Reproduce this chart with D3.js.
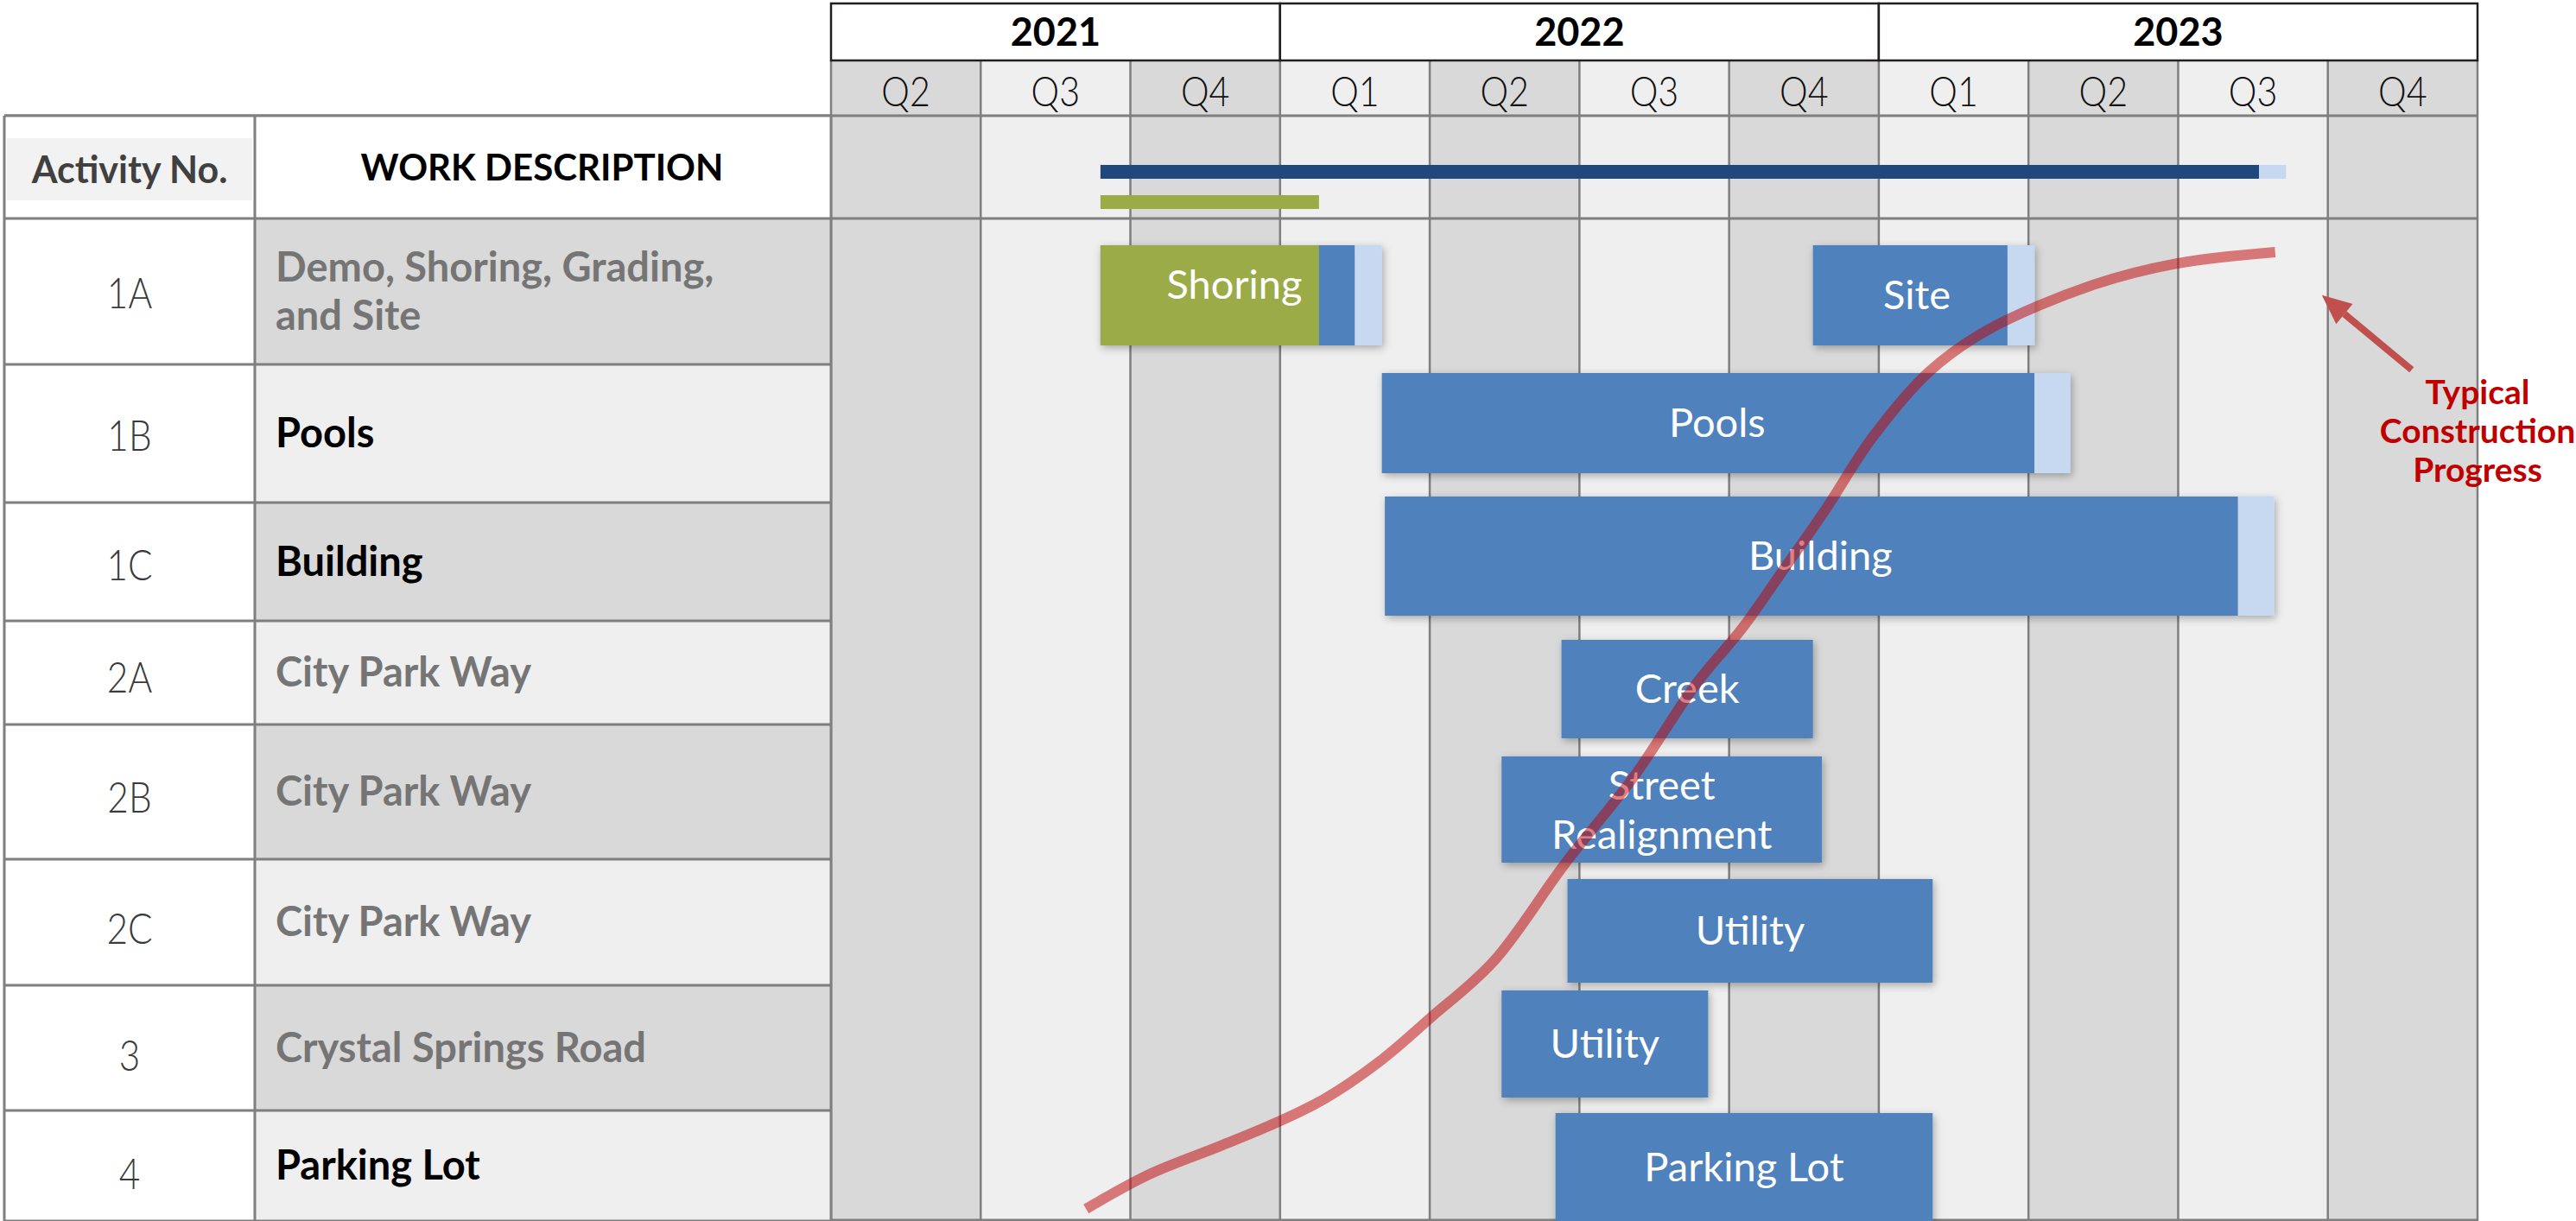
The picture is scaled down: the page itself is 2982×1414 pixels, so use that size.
<!DOCTYPE html>
<html>

<head>
	<title>Construction schedule</title>
	<script src="https://cdn.jsdelivr.net/npm/d3@7"></script>
	<style>
		body {
			margin: 0;
			background: #fff;
		}

		svg {
			display: block;
			font-family: Lato, 'Open Sans', sans-serif;
		}
	</style>
</head>

<body>
	<svg id="chart" width="2982" height="1414"></svg>

	<script type="text/javascript">
		// time header (decimal years, one column per quarter)
		var years = ['2021', '2022', '2023'];
		var yearStart = [2021.25, 2022, 2023];
		var yearEnd = [2022, 2023, 2024];
		var quarterLabels = ['Q2', 'Q3', 'Q4', 'Q1', 'Q2', 'Q3', 'Q4', 'Q1', 'Q2', 'Q3', 'Q4'];

		// table rows
		var activityNo = ['1A', '1B', '1C', '2A', '2B', '2C', '3', '4'];
		var workDescription = [['Demo, Shoring, Grading,', 'and Site'], ['Pools'], ['Building'], ['City Park Way'],
			['City Park Way'], ['City Park Way'], ['Crystal Springs Road'], ['Parking Lot']];
		var descHighlight = [false, true, true, false, false, false, false, true];

		// gantt tasks
		var taskActivity = ['1A', '1A', '1B', '1C', '2A', '2B', '2C', '3', '4'];
		var taskLabel = [['Shoring'], ['Site'], ['Pools'], ['Building'], ['Creek'], ['Street', 'Realignment'],
			['Utility'], ['Utility'], ['Parking Lot']];
		var taskStart = [2021.70, 2022.89, 2022.17, 2022.175, 2022.47, 2022.37, 2022.48, 2022.37, 2022.46];
		var taskEnd = [2022.125, 2023.215, 2023.26, 2023.60, 2022.89, 2022.905, 2023.09, 2022.715, 2023.09];
		var taskTail = [2022.17, 2023.26, 2023.32, 2023.66, null, null, null, null, null];
		var taskEarly = [2022.065, null, null, null, null, null, null, null, null];

		// summary bars in the header row: whole project, shoring phase
		var summaryStart = [2021.70, 2021.70];
		var summaryEnd = [2023.635, 2022.065];
		var summaryTail = [2023.68, null];

		// typical construction progress (cumulative %)
		var progressTime = [2021.676, 2021.781, 2021.901, 2021.993, 2022.074, 2022.170, 2022.250, 2022.357, 2022.476,
			2022.590, 2022.694, 2022.772, 2022.844, 2022.911, 2022.989, 2023.084, 2023.180, 2023.359, 2023.496, 2023.662];
		var progressPct = [0, 3.6, 6.6, 9.0, 11.5, 15.6, 19.9, 25.9, 36.1, 45.1, 54.8, 60.7, 67.1, 73.1, 80.6, 87.5,
			91.8, 96.6, 98.8, 100];
		var noteLines = ['Typical', 'Construction', 'Progress'];

		// layout
		var svg = d3.select('#chart'),
			width = +svg.attr('width'),
			height = +svg.attr('height');

		var tableLeft = 5, numRight = 295, chartLeft = 962, chartRight = 2868;
		var yearTop = 4, quarterTop = 70, headerTop = 134, headerBottom = 253;
		var rowEdges = [253, 422, 582, 719, 839, 995, 1141, 1286, 1414];
		var barTops = [284, 432, 575, 741, 876, 1018, 1147, 1289];
		var barBottoms = [400, 548, 713, 855, 999, 1138, 1271, 1414];
		var gridColor = '#7f7f7f';

		var x = d3.scaleLinear().domain([2021.25, 2024]).range([chartLeft, chartRight]);
		var yPct = d3.scaleLinear().domain([0, 100]).range([1400, 292]);
		var rowIndex = d3.scaleOrdinal().domain(activityNo).range(d3.range(activityNo.length));

		var quarters = quarterLabels.map((q, i) => ({ label: q, t0: 2021.25 + i * 0.25, t1: 2021.5 + i * 0.25, i: i }));

		var defs = svg.append('defs');
		defs.append('filter').attr('id', 'shadow')
			.attr('x', '-10%').attr('y', '-20%').attr('width', '125%').attr('height', '145%')
			.append('feDropShadow')
			.attr('dx', 2).attr('dy', 3).attr('stdDeviation', 5)
			.attr('flood-color', '#000').attr('flood-opacity', 0.3);

		// quarter columns
		svg.append('g').selectAll('rect')
			.data(quarters)
			.enter()
			.append('rect')
			.attr('x', d => x(d.t0))
			.attr('y', quarterTop)
			.attr('width', d => x(d.t1) - x(d.t0))
			.attr('height', height - quarterTop)
			.attr('fill', d => d.i % 2 === 0 ? '#d9d9d9' : '#efefef');

		svg.append('g').selectAll('line')
			.data(d3.range(quarters.length + 1).map(i => 2021.25 + i * 0.25))
			.enter()
			.append('line')
			.attr('x1', d => x(d)).attr('x2', d => x(d))
			.attr('y1', quarterTop).attr('y2', height)
			.attr('stroke', gridColor)
			.attr('stroke-width', 2.5);

		svg.append('g').selectAll('line')
			.data([headerTop, headerBottom, height - 1])
			.enter()
			.append('line')
			.attr('x1', tableLeft).attr('x2', chartRight)
			.attr('y1', d => d).attr('y2', d => d)
			.attr('stroke', gridColor)
			.attr('stroke-width', 3);

		// year header
		var yearG = svg.append('g').selectAll('g')
			.data(years)
			.enter()
			.append('g');
		yearG.append('rect')
			.attr('x', (d, i) => x(yearStart[i]))
			.attr('y', yearTop)
			.attr('width', (d, i) => x(yearEnd[i]) - x(yearStart[i]))
			.attr('height', quarterTop - yearTop)
			.attr('fill', '#fff')
			.attr('stroke', '#231f20')
			.attr('stroke-width', 2.5);
		yearG.append('text')
			.attr('x', (d, i) => (x(yearStart[i]) + x(yearEnd[i])) / 2)
			.attr('y', 53)
			.attr('text-anchor', 'middle')
			.attr('font-size', 45)
			.attr('font-weight', 'bold')
			.attr('fill', '#000')
			.text(d => d);

		// quarter labels, narrowed to look like the condensed face of the original
		svg.append('g').selectAll('text')
			.data(quarters)
			.enter()
			.append('text')
			.attr('transform', d => 'translate(' + (x(d.t0) + x(d.t1)) / 2 + ',123) scale(0.86,1)')
			.attr('text-anchor', 'middle')
			.attr('font-size', 48)
			.attr('font-weight', 300)
			.attr('fill', '#111')
			.text(d => d.label);

		// summary bars
		var sumTop = [191, 226], sumH = 16;
		var sumColor = ['#1f497d', '#9bab46'];
		svg.append('g').selectAll('rect')
			.data(summaryStart)
			.enter()
			.append('rect')
			.attr('x', d => x(d))
			.attr('y', (d, i) => sumTop[i])
			.attr('width', (d, i) => x(summaryEnd[i]) - x(d))
			.attr('height', sumH)
			.attr('fill', (d, i) => sumColor[i]);
		svg.append('g').selectAll('rect')
			.data(summaryTail.map((d, i) => ({ t: d, i: i })).filter(d => d.t !== null))
			.enter()
			.append('rect')
			.attr('x', d => x(summaryEnd[d.i]))
			.attr('y', d => sumTop[d.i])
			.attr('width', d => x(d.t) - x(summaryEnd[d.i]))
			.attr('height', sumH)
			.attr('fill', '#c6d9f1');

		// gantt bars
		var tasks = taskActivity.map((a, i) => ({
			row: rowIndex(a), label: taskLabel[i], start: taskStart[i], end: taskEnd[i],
			tail: taskTail[i], early: taskEarly[i]
		}));

		var taskG = svg.append('g').selectAll('g')
			.data(tasks)
			.enter()
			.append('g')
			.attr('filter', 'url(#shadow)');

		taskG.append('rect')
			.attr('x', d => x(d.start))
			.attr('y', d => barTops[d.row])
			.attr('width', d => x(d.end) - x(d.start))
			.attr('height', d => barBottoms[d.row] - barTops[d.row])
			.attr('fill', '#4f81bd');
		taskG.filter(d => d.early !== null)
			.append('rect')
			.attr('x', d => x(d.start))
			.attr('y', d => barTops[d.row])
			.attr('width', d => x(d.early) - x(d.start))
			.attr('height', d => barBottoms[d.row] - barTops[d.row])
			.attr('fill', '#9bab46');
		taskG.filter(d => d.tail !== null)
			.append('rect')
			.attr('x', d => x(d.end))
			.attr('y', d => barTops[d.row])
			.attr('width', d => x(d.tail) - x(d.end))
			.attr('height', d => barBottoms[d.row] - barTops[d.row])
			.attr('fill', '#c6d9f1');

		var labelG = svg.append('g').selectAll('text')
			.data(tasks)
			.enter()
			.append('text')
			.attr('text-anchor', 'middle')
			.attr('font-size', 47)
			.attr('fill', '#fff')
			.attr('transform', d => {
				var right = d.tail !== null ? (d.end + d.tail) / 2 : d.end;
				var cx = (x(d.start) + x(right)) / 2;
				// the green shoring label sits a little high in its bar
				var lift = d.early !== null ? 12 : 0;
				var cy = (barTops[d.row] + barBottoms[d.row]) / 2 - (d.label.length - 1) * 28 - lift;
				return 'translate(' + cx + ',' + (cy + 16) + ')';
			});
		labelG.selectAll('tspan')
			.data(d => d.label)
			.enter()
			.append('tspan')
			.attr('x', 0)
			.attr('y', (d, i) => i * 57)
			.text(d => d);

		// progress curve
		var line = d3.line()
			.x((d, i) => x(progressTime[i]))
			.y(d => yPct(d))
			.curve(d3.curveCatmullRom.alpha(0.5));
		svg.append('path')
			.datum(progressPct)
			.attr('d', line)
			.attr('fill', 'none')
			.attr('stroke', '#c00000')
			.attr('stroke-opacity', 0.5)
			.attr('stroke-width', 12);

		// annotation
		var tip = [x(2023.74), yPct(95.5)], tail = [x(2023.89), yPct(87.7)];
		var ang = Math.atan2(tip[1] - tail[1], tip[0] - tail[0]);
		var headLen = 34, headW = 15;
		var base = [tip[0] - headLen * Math.cos(ang), tip[1] - headLen * Math.sin(ang)];
		svg.append('line')
			.attr('x1', tail[0]).attr('y1', tail[1])
			.attr('x2', base[0]).attr('y2', base[1])
			.attr('stroke', '#c0504d')
			.attr('stroke-width', 8);
		svg.append('path')
			.attr('d', 'M' + tip + 'L' + [base[0] + headW * Math.sin(ang), base[1] - headW * Math.cos(ang)] +
				'L' + [base[0] - headW * Math.sin(ang), base[1] + headW * Math.cos(ang)] + 'Z')
			.attr('fill', '#c0504d');
		svg.append('g').selectAll('text')
			.data(noteLines)
			.enter()
			.append('text')
			.attr('x', x(2024))
			.attr('y', (d, i) => 468 + i * 45)
			.attr('text-anchor', 'middle')
			.attr('font-size', 39)
			.attr('font-weight', 'bold')
			.attr('fill', '#c00000')
			.text(d => d);

		// left table
		var table = svg.append('g');
		table.append('rect')
			.attr('x', tableLeft).attr('y', headerTop)
			.attr('width', chartLeft - tableLeft).attr('height', headerBottom - headerTop)
			.attr('fill', '#fff');
		table.append('rect')
			.attr('x', 8).attr('y', 160)
			.attr('width', numRight - 11).attr('height', 72)
			.attr('fill', '#f2f2f2');
		table.append('text')
			.attr('x', (tableLeft + numRight) / 2)
			.attr('y', 212)
			.attr('text-anchor', 'middle')
			.attr('font-size', 43)
			.attr('font-weight', 'bold')
			.attr('fill', '#404040')
			.text('Activity No.');
		table.append('text')
			.attr('x', (numRight + chartLeft) / 2 - 1)
			.attr('y', 209)
			.attr('text-anchor', 'middle')
			.attr('font-size', 42)
			.attr('font-weight', 'bold')
			.attr('fill', '#000')
			.text('WORK DESCRIPTION');

		var rows = table.selectAll('g.row')
			.data(activityNo)
			.enter()
			.append('g')
			.attr('class', 'row');
		rows.append('rect')
			.attr('x', tableLeft)
			.attr('y', (d, i) => rowEdges[i])
			.attr('width', numRight - tableLeft)
			.attr('height', (d, i) => rowEdges[i + 1] - rowEdges[i])
			.attr('fill', '#fff');
		rows.append('rect')
			.attr('x', numRight)
			.attr('y', (d, i) => rowEdges[i])
			.attr('width', chartLeft - numRight)
			.attr('height', (d, i) => rowEdges[i + 1] - rowEdges[i])
			.attr('fill', (d, i) => i % 2 === 0 ? '#d9d9d9' : '#efefef');
		rows.append('text')
			.attr('transform', (d, i) => 'translate(' + (tableLeft + numRight) / 2 + ',' +
				((rowEdges[i] + rowEdges[i + 1]) / 2 + 19 + i * 1.2) + ') scale(0.9,1.05)')
			.attr('text-anchor', 'middle')
			.attr('font-size', 47)
			.attr('font-weight', 300)
			.attr('fill', '#3a3a3a')
			.text(d => d);
		var desc = rows.append('text')
			.attr('font-size', 47)
			.attr('font-weight', 'bold')
			.attr('fill', (d, i) => descHighlight[i] ? '#000' : '#757575')
			.attr('transform', (d, i) => {
				var cy = (rowEdges[i] + rowEdges[i + 1]) / 2 + 16 - (workDescription[i].length - 1) * 28;
				return 'translate(319,' + cy + ')';
			});
		desc.selectAll('tspan')
			.data((d, i) => workDescription[i])
			.enter()
			.append('tspan')
			.attr('x', 0)
			.attr('y', (d, i) => i * 56)
			.text(d => d);

		// table borders
		table.selectAll('line.h')
			.data(rowEdges.concat([headerTop]))
			.enter()
			.append('line')
			.attr('x1', tableLeft).attr('x2', chartLeft)
			.attr('y1', d => d).attr('y2', d => d)
			.attr('stroke', gridColor)
			.attr('stroke-width', 3);
		table.selectAll('line.v')
			.data([tableLeft, numRight, chartLeft])
			.enter()
			.append('line')
			.attr('x1', d => d).attr('x2', d => d)
			.attr('y1', headerTop).attr('y2', height)
			.attr('stroke', gridColor)
			.attr('stroke-width', 3);
	</script>
</body>

</html>
